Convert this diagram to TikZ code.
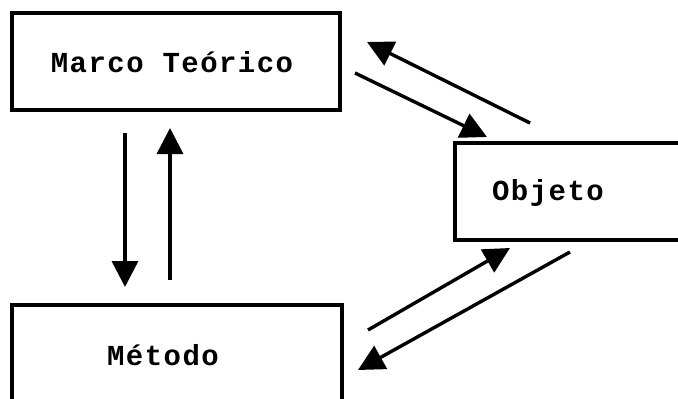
\documentclass[tikz,border=0pt]{standalone}
\usepackage{fontspec}
\newfontfamily\tw[LetterSpace=5]{Liberation Mono}
\usetikzlibrary{arrows.meta}
\begin{document}
\begin{tikzpicture}[x=1pt,y=-1pt,
  box/.style={draw,line width=3.4pt,rectangle,inner sep=0pt},
  lbl/.style={font=\tw\bfseries\fontsize{29}{30}\selectfont,inner sep=0pt},
  arr/.style={line width=3.4pt,-{Triangle[length=26pt,width=26pt]}}]
\useasboundingbox (0,0) rectangle (678,399);
\clip (0,0) rectangle (678,399);
% boxes
\node[box,minimum width=328pt,minimum height=97pt] (mt) at (176,61.5) {};
\node[box,minimum width=265pt,minimum height=97pt] (ob) at (587.5,191.5) {};
\node[box,minimum width=330pt,minimum height=125pt] (me) at (177,367.5) {};
% labels
\node[lbl] (mtl) at (172,62) {Marco Teórico};
\node[lbl] (obl) at (548,193) {Objeto};
\node[lbl] (mel) at (163,355) {Método};
% arrow end points
\coordinate (a1) at (125,133); \coordinate (a2) at (125,287);
\coordinate (b1) at (170,280); \coordinate (b2) at (170,128);
\coordinate (c1) at (355,73);  \coordinate (c2) at (487,137);
\coordinate (d1) at (530,123); \coordinate (d2) at (367,42);
\coordinate (e1) at (368,330); \coordinate (e2) at (510,248);
\coordinate (f1) at (570,252); \coordinate (f2) at (358,370);
\draw[arr] (a1) -- (a2);
\draw[arr] (b1) -- (b2);
\draw[arr] (c1) -- (c2);
\draw[arr] (d1) -- (d2);
\draw[arr] (e1) -- (e2);
\draw[arr] (f1) -- (f2);
\end{tikzpicture}
\end{document}
